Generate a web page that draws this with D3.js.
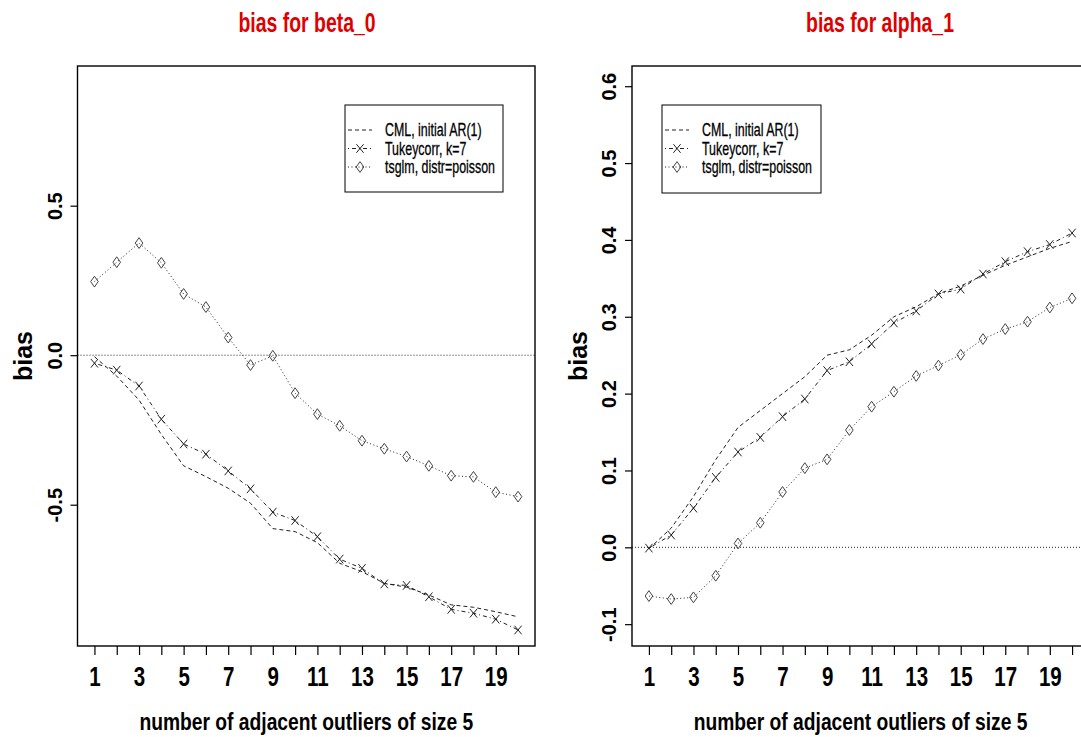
<!DOCTYPE html>
<html>
<head>
<meta charset="utf-8">
<script src="https://cdn.jsdelivr.net/npm/d3@7"></script>
<style>
  body { margin: 0; background: #fff; }
  svg { display: block; font-family: "Liberation Sans", Arial, sans-serif; }
</style>
</head>
<body>
<svg id="chart" width="1081" height="737"></svg>
<script>
// x positions: number of adjacent outliers
var outliers = [1, 2, 3, 4, 5, 6, 7, 8, 9, 10, 11, 12, 13, 14, 15, 16, 17, 18, 19, 20];
var xTickLabels = [1, 3, 5, 7, 9, 11, 13, 15, 17, 19];
var seriesNames = ["CML, initial AR(1)", "Tukeycorr, k=7", "tsglm, distr=poisson"];

// bias for beta_0
var beta0CML = [-0.005, -0.07, -0.15, -0.265, -0.37, -0.406, -0.445, -0.495, -0.58, -0.59,
                -0.627, -0.696, -0.724, -0.763, -0.776, -0.802, -0.835, -0.843, -0.858, -0.875];
var beta0Tukey = [-0.027, -0.05, -0.103, -0.214, -0.297, -0.331, -0.387, -0.447, -0.525, -0.553,
                  -0.607, -0.682, -0.713, -0.765, -0.77, -0.808, -0.85, -0.863, -0.883, -0.919];
var beta0Tsglm = [0.246, 0.311, 0.375, 0.309, 0.205, 0.161, 0.059, -0.033, -0.002, -0.127,
                  -0.197, -0.236, -0.286, -0.313, -0.339, -0.37, -0.403, -0.407, -0.458, -0.473];
var beta0Ticks = [-0.5, 0.0, 0.5];

// bias for alpha_1
var alpha1CML = [-0.002, 0.025, 0.066, 0.114, 0.156, 0.178, 0.2, 0.222, 0.25, 0.257,
                 0.276, 0.3, 0.313, 0.33, 0.34, 0.354, 0.367, 0.378, 0.389, 0.398];
var alpha1Tukey = [-0.001, 0.016, 0.051, 0.091, 0.124, 0.143, 0.17, 0.193, 0.23, 0.2415,
                   0.2646, 0.292, 0.3075, 0.3296, 0.336, 0.3556, 0.3717, 0.3847, 0.394, 0.409];
var alpha1Tsglm = [-0.0634, -0.0673, -0.0651, -0.037, 0.005, 0.032, 0.072, 0.103, 0.1145, 0.1526,
                   0.183, 0.2025, 0.223, 0.2365, 0.2505, 0.271, 0.284, 0.2936, 0.312, 0.324];
var alpha1Ticks = [-0.1, 0.0, 0.1, 0.2, 0.3, 0.4, 0.5, 0.6];

(function () {
  var svg = d3.select("#chart");

  var panels = [
    { title: "bias for beta_0", left: 77.5, right: 535, titleX: 307, ydom: [-0.9726, 0.9672],
      ticks: beta0Ticks, series: [beta0CML, beta0Tukey, beta0Tsglm], legend: {x: 345, y: 105, w: 158, h: 87} },
    { title: "bias for alpha_1", left: 632, right: 1089, titleX: 880, ydom: [-0.1284, 0.6263],
      ticks: alpha1Ticks, series: [alpha1CML, alpha1Tukey, alpha1Tsglm], legend: {x: 662, y: 105, w: 159, h: 88} }
  ];
  var plotTop = 66, plotBottom = 646;

  var styles = [
    { dash: "4,3", mark: null },
    { dash: "1,3,4,3", mark: "cross" },
    { dash: "1,2.5", mark: "diamond" }
  ];

  function drawMark(g, type, x, y) {
    if (type === "cross") {
      g.append("path")
        .attr("d", "M" + (x - 3.6) + "," + (y - 4.3) + "L" + (x + 3.6) + "," + (y + 4.3) +
                   "M" + (x - 3.6) + "," + (y + 4.3) + "L" + (x + 3.6) + "," + (y - 4.3))
        .attr("stroke", "#222").attr("stroke-width", 1).attr("fill", "none");
    } else if (type === "diamond") {
      g.append("path")
        .attr("d", "M" + x + "," + (y - 5.4) + "L" + (x + 3.8) + "," + y + "L" + x + "," + (y + 5.4) +
                   "L" + (x - 3.8) + "," + y + "Z")
        .attr("stroke", "#444").attr("stroke-width", 1).attr("fill", "none");
    }
  }

  panels.forEach(function (p) {
    var x = d3.scaleLinear().domain([0.24, 20.76]).range([p.left, p.right]);
    var y = d3.scaleLinear().domain(p.ydom).range([plotBottom, plotTop]);
    var g = svg.append("g");

    // title
    g.append("text")
      .attr("transform", "translate(" + p.titleX + ",32) scale(0.72,1)")
      .attr("text-anchor", "middle")
      .attr("font-size", 27).attr("font-weight", "bold").attr("fill", "#e00000")
      .text(p.title);

    // zero reference line
    g.append("line")
      .attr("x1", p.left).attr("x2", p.right)
      .attr("y1", y(0)).attr("y2", y(0))
      .attr("stroke", "#222").attr("stroke-width", 1).attr("stroke-dasharray", "1,2");

    // series
    p.series.forEach(function (vals, si) {
      var line = d3.line()
        .x(function (d, i) { return x(outliers[i]); })
        .y(function (d) { return y(d); });
      g.append("path")
        .datum(vals)
        .attr("d", line)
        .attr("fill", "none")
        .attr("stroke", "#222")
        .attr("stroke-width", 1)
        .attr("stroke-dasharray", styles[si].dash);
      if (styles[si].mark) {
        vals.forEach(function (d, i) { drawMark(g, styles[si].mark, x(outliers[i]), y(d)); });
      }
    });

    // box
    g.append("rect")
      .attr("x", p.left).attr("y", plotTop)
      .attr("width", p.right - p.left).attr("height", plotBottom - plotTop)
      .attr("fill", "none").attr("stroke", "#000").attr("stroke-width", 1.4);

    // x axis
    var xAxis = d3.axisBottom(x)
      .tickValues(outliers)
      .tickSize(9)
      .tickFormat(function (d) { return xTickLabels.indexOf(d) >= 0 ? d : ""; });
    var gx = g.append("g").attr("transform", "translate(0," + plotBottom + ")").call(xAxis);
    gx.select(".domain").remove();
    gx.selectAll(".tick line").attr("stroke", "#000").attr("stroke-width", 1.2);
    gx.selectAll(".tick text")
      .attr("y", 0).attr("dy", 0)
      .attr("transform", "translate(0,40) scale(0.76,1)")
      .attr("font-size", 27).attr("font-weight", "bold")
      .attr("font-family", "Liberation Sans, Arial, sans-serif")
      .attr("fill", "#000");

    g.append("text")
      .attr("transform", "translate(" + ((p.left + p.right) / 2) + ",730) scale(0.82,1)")
      .attr("text-anchor", "middle")
      .attr("font-size", 23.5).attr("font-weight", "bold")
      .text("number of adjacent outliers of size 5");

    // y axis
    var yAxis = d3.axisLeft(y)
      .tickValues(p.ticks)
      .tickSize(7)
      .tickFormat(function (d) { return d.toFixed(1); });
    var gy = g.append("g").attr("transform", "translate(" + p.left + ",0)").call(yAxis);
    gy.select(".domain").remove();
    gy.selectAll(".tick line").attr("stroke", "#000").attr("stroke-width", 1.2);
    gy.selectAll(".tick text")
      .attr("x", 0).attr("dy", 0)
      .attr("transform", "translate(-16,0) rotate(-90)")
      .attr("text-anchor", "middle")
      .attr("font-size", 20).attr("font-weight", "bold")
      .attr("font-family", "Liberation Sans, Arial, sans-serif")
      .attr("fill", "#000");

    g.append("text")
      .attr("transform", "translate(" + (p.left - 45.3) + ",356) rotate(-90)")
      .attr("text-anchor", "middle")
      .attr("font-size", 25).attr("font-weight", "bold")
      .text("bias");

    // legend
    var L = p.legend;
    var lg = g.append("g");
    lg.append("rect")
      .attr("x", L.x).attr("y", L.y).attr("width", L.w).attr("height", L.h)
      .attr("fill", "#fff").attr("stroke", "#000").attr("stroke-width", 1);
    seriesNames.forEach(function (name, si) {
      var ry = L.y + 25 + si * 18.5;
      lg.append("line")
        .attr("x1", L.x + 3).attr("x2", L.x + 27)
        .attr("y1", ry).attr("y2", ry)
        .attr("stroke", "#222").attr("stroke-width", 1)
        .attr("stroke-dasharray", styles[si].dash);
      if (styles[si].mark) drawMark(lg, styles[si].mark, L.x + 15, ry);
      lg.append("text")
        .attr("transform", "translate(" + (L.x + 40) + "," + (ry + 6) + ") scale(0.69,1)")
        .attr("font-size", 18)
        .attr("stroke", "#000").attr("stroke-width", 0.3)
        .text(name);
    });
  });
})();
</script>
</body>
</html>
